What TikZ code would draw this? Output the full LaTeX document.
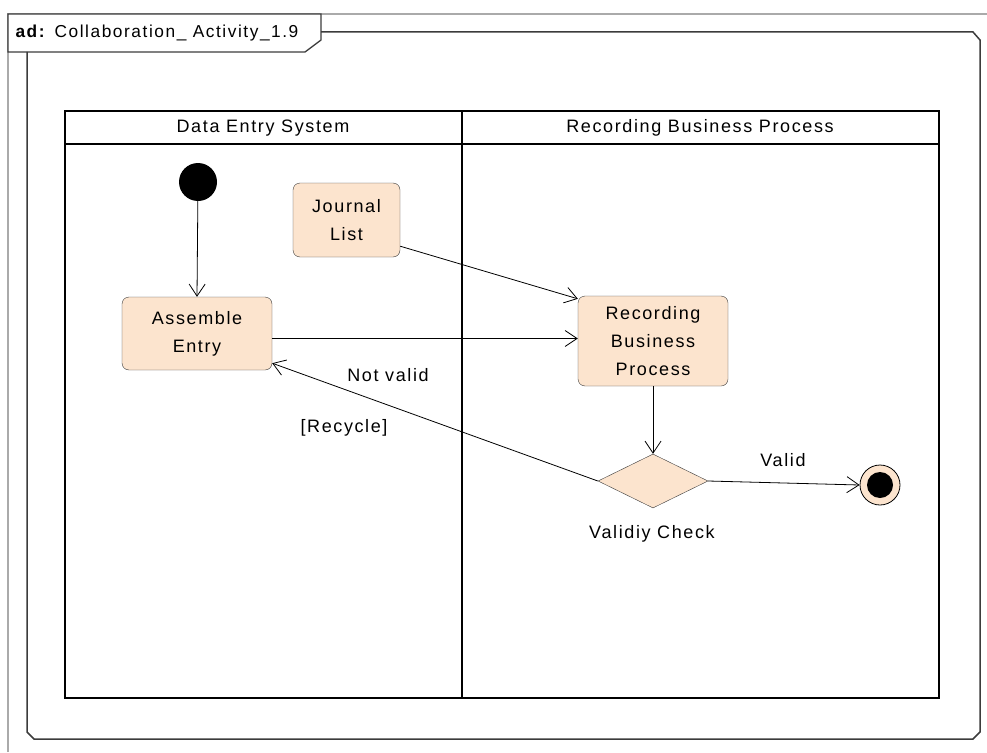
\documentclass[tikz,border=0pt]{standalone}
\usepackage{fontspec}
\setmainfont{Liberation Sans}[LetterSpace=9]
\usetikzlibrary{shapes.geometric,arrows.meta}
\definecolor{peach}{RGB}{252,228,206}
\definecolor{framegray}{RGB}{60,60,60}
\definecolor{outergray}{RGB}{170,170,170}

\begin{document}
\begin{tikzpicture}[x=1pt,y=-1pt,
		every node/.style={font=\fontsize{18}{28}\selectfont},
		action/.style={draw=framegray, fill=peach, rounded corners=7pt, align=center, inner sep=0pt},
		decision/.style={draw=framegray, fill=peach, diamond, inner sep=0pt, minimum width=110pt, minimum height=54pt},
		flow/.style={-{Straight Barb[length=12pt,width=16pt]}, line width=0.8pt},
		lane/.style={line width=1.2pt, draw=black}]
		\useasboundingbox (0,0) rectangle (987,752);
		\draw[outergray, line width=1.2pt] (8,752) -- (8,14) -- (987,14);
		\draw[framegray, line width=1.3pt, fill=white] (8,14) -- (321,14) -- (321,40) -- (305,52) -- (8,52) -- cycle;
		\node[anchor=west, font=\fontsize{17.3}{28}\selectfont] (title) at (12,33) {\textbf{ad:} Collaboration\_ Activity\_1.9};
		\draw[framegray, line width=1.5pt] (321,32) -- (973,32) -- (980,40) -- (980,732) -- (973,739) -- (34,739) -- (27,732) -- (27,52);
		\draw[lane] (65,111) rectangle (939,698);
		\draw[lane] (65,144) -- (939,144);
		\draw[lane] (462,111) -- (462,698);
		\node (lefthead) at (263,128) {Data Entry System};
		\node (righthead) at (700,128) {Recording Business Process};
		\node[circle, fill=black, minimum size=38pt, inner sep=0pt] (start) at (198,182) {};
		\node[action, minimum width=150pt, minimum height=73pt] (assemble) at (197,333.5) {Assemble\\Entry};
		\node[action, minimum width=107pt, minimum height=74pt] (journal) at (346.5,220) {Journal\\List};
		\node[action, minimum width=150pt, minimum height=90pt] (recording) at (653,341) {Recording\\Business\\Process};
		\node[decision] (check) at (653,481) {};
		\node (checklabel) at (652,534) {Validiy Check};
		\node[circle, draw=black, line width=0.8pt, fill=peach, minimum size=40pt, inner sep=0pt,
			path picture={\fill[black] (path picture bounding box.center) circle (13pt);}] (final) at (880,485) {};
		\node (validlabel) at (783,460) {Valid};
		\node (notvalid) at (388,375) {Not valid};
		\node (recycle) at (344,428) {[Recycle]};
		\draw[flow] (start) -- (assemble.north);
		\draw[flow] ([yshift=11pt]journal.south east) -- ([yshift=-3pt]recording.north west);
		\draw[flow] ([yshift=-5pt]assemble.east) -- ([yshift=-5pt]assemble.east -| recording.west);
		\draw[flow] (recording.south) -- (check.north);
		\draw[flow] (check.west) -- ([yshift=7pt]assemble.south east);
		\draw[flow] (check.east) -- (final.west);
\end{tikzpicture}
\end{document}
